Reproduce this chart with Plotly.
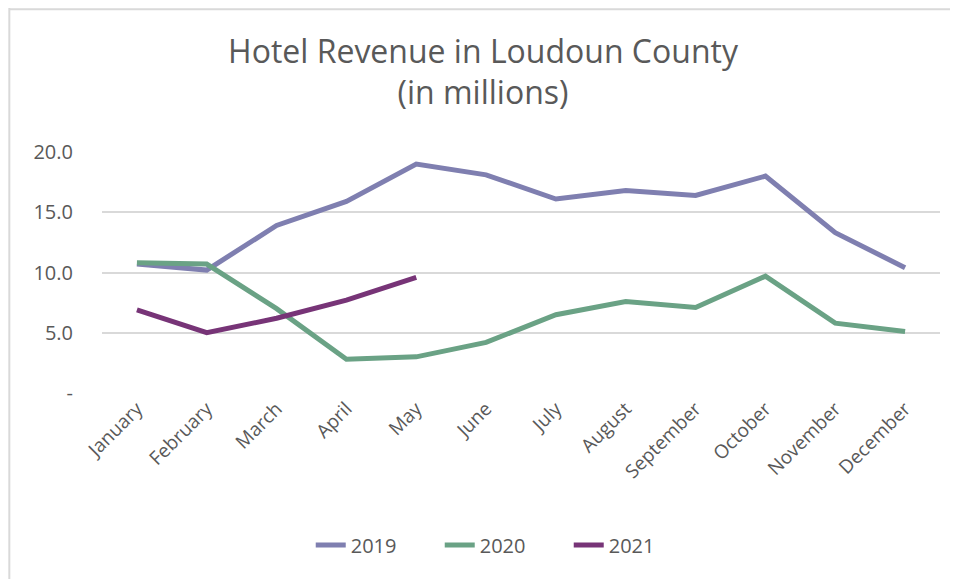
import plotly.graph_objects as go

months = ["January", "February", "March", "April", "May", "June", "July",
          "August", "September", "October", "November", "December"]
rev_2019 = [10.7, 10.2, 13.9, 15.9, 19.0, 18.1, 16.1, 16.8, 16.4, 18.0, 13.3, 10.4]
rev_2020 = [10.8, 10.7, 7.0, 2.8, 3.0, 4.2, 6.5, 7.6, 7.1, 9.7, 5.8, 5.1]
rev_2021 = [6.9, 5.0, 6.2, 7.7, 9.6]

colors = {"2019": "#7F7FB0", "2020": "#6AA285", "2021": "#773477"}
font_c = "#595959"

fig = go.Figure()
for name, vals in (("2019", rev_2019), ("2020", rev_2020), ("2021", rev_2021)):
    fig.add_trace(go.Scatter(x=months[:len(vals)], y=vals, mode="lines", name=name,
                             line=dict(color=colors[name], width=5)))

# light border of the chart area (only left/top visible in the source)
fig.add_shape(type="line", xref="paper", yref="paper", x0=-0.1106, x1=-0.1106, y0=-1, y1=1.6,
              line=dict(color="#D9D9D9", width=2), layer="below")
fig.add_shape(type="line", xref="paper", yref="paper", x0=-0.1106, x1=1.2, y0=1.592, y1=1.592,
              line=dict(color="#D9D9D9", width=2), layer="below")

fig.update_layout(
    title=dict(text="Hotel Revenue in Loudoun County<br>(in millions)",
               x=0.5, xanchor="center", y=0.904, yanchor="middle",
               font=dict(family="Open Sans", size=32, color=font_c)),
    width=950, height=571,
    paper_bgcolor="white", plot_bgcolor="white",
    margin=dict(l=94, r=18, t=144, b=186),
    font=dict(family="Open Sans", color=font_c),
    xaxis=dict(type="category", range=[-0.5, 11.5], tickangle=-45, showgrid=False,
               showline=False, ticks="", tickfont=dict(size=19, color=font_c)),
    yaxis=dict(range=[0, 20], showline=False, zeroline=False,
               gridcolor="#D9D9D9", gridwidth=1.5, tickfont=dict(size=20, color=font_c),
               ticklabelstandoff=28,
               tickvals=[0, 5, 10, 15, 20], ticktext=["-", "5.0", "10.0", "15.0", "20.0"]),
    legend=dict(orientation="h", x=0.48, xanchor="center", y=-0.631, yanchor="middle",
                entrywidth=84, font=dict(size=20, color=font_c)),
    showlegend=True,
)

fig.write_html("out.html")
